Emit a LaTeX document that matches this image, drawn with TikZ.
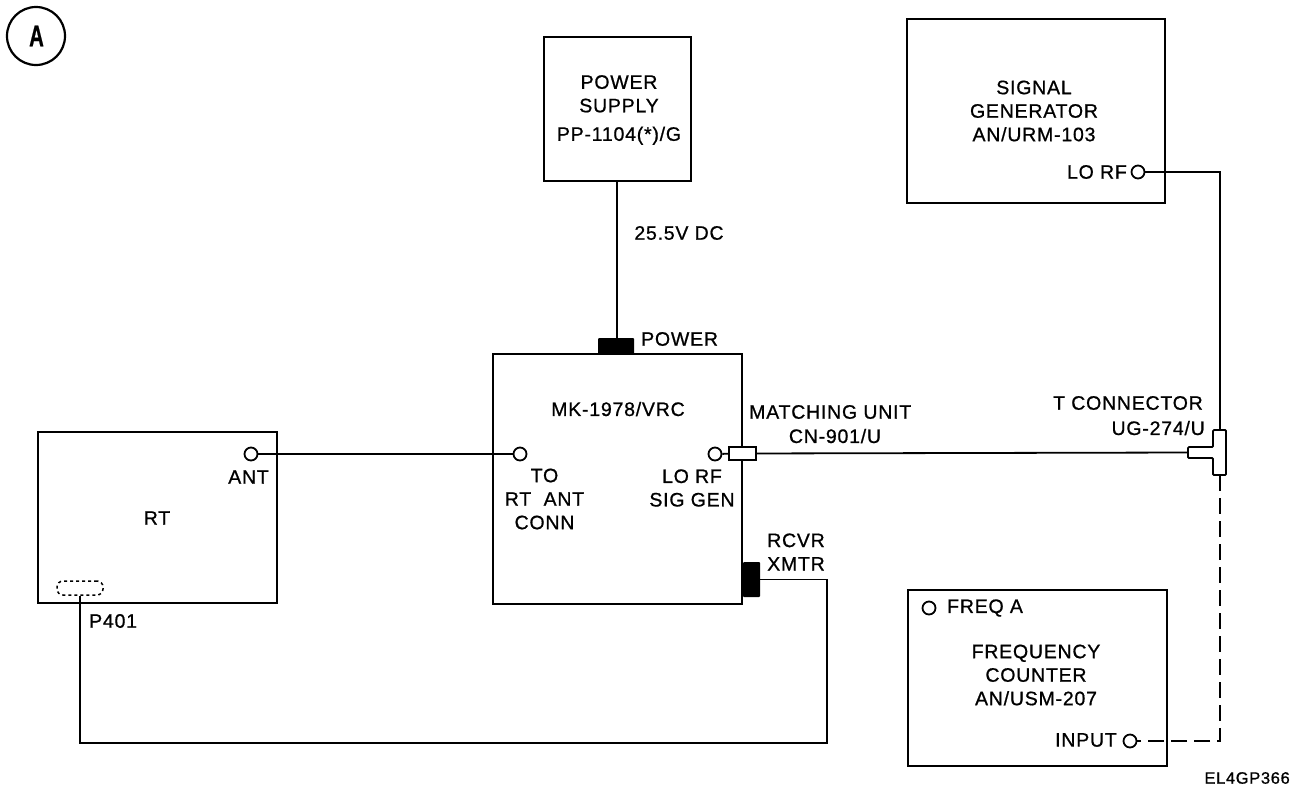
\documentclass[tikz,border=0pt]{standalone}
\usepackage{fontspec}
\setmainfont{Liberation Sans}[LetterSpace=4,FakeBold=0.8]
\usetikzlibrary{positioning}
\tikzset{
    unitbox/.style={draw, line width=2pt, inner sep=0pt},
    lbl/.style={align=center, inner sep=0pt, font=\fontsize{19.5}{23.5}\selectfont},
    jack/.style={draw, circle, line width=1.8pt, fill=white, minimum size=13pt, inner sep=0pt},
    plug/.style={fill=black, inner sep=0pt, rounded corners=1pt},
    wire/.style={line width=1.8pt}
}
\begin{document}
\begin{tikzpicture}[x=1pt,y=-1pt]
    \useasboundingbox (0,0) rectangle (1305,785);

    % boxes
    \node[unitbox, minimum width=147pt, minimum height=144pt] (power) at (617,109) {};
    \node[unitbox, minimum width=258pt, minimum height=184pt] (siggen) at (1036,111) {};
    \node[unitbox, minimum width=249pt, minimum height=250pt] (mk) at (617.5,479) {};
    \node[unitbox, minimum width=239pt, minimum height=171pt] (rt) at (157.5,517.5) {};
    \node[unitbox, minimum width=259pt, minimum height=176pt] (counter) at (1037.5,678) {};

    % letter in the corner
    \node[draw, circle, line width=2.2pt, minimum size=58pt, inner sep=0pt] (mark) at (36,36) {};
    \node[inner sep=0pt, xscale=.68, font=\fontsize{30}{30}\selectfont\bfseries] (marka) at (36.5,36) {A};

    % jacks
    \node[jack] (antjack) at (251,454) {};
    \node[jack] (mkant) at (520,454) {};
    \node[jack] (mklo) at (715,454) {};
    \node[jack] (sglo) at (1138,172) {};
    \node[jack] (freqa) at (929,608) {};
    \node[jack] (input) at (1130,741) {};

    % connectors on the boxes
    \node[plug, minimum width=36pt, minimum height=16pt] (powerplug) at (616,346) {};
    \node[plug, minimum width=17pt, minimum height=35pt] (rcvrplug) at (751.5,579.5) {};
    \node[draw, line width=1.8pt, fill=white, minimum width=27pt, minimum height=13pt, inner sep=0pt] (match) at (742.5,453.5) {};
    \node[draw, dashed, line width=1.5pt, rounded corners=6pt, minimum width=46pt, minimum height=14pt, inner sep=0pt] (p401) at (80,588) {};

    % T connector
    \coordinate (tleft) at (1188,452.5);
    \coordinate (ttop) at (1220,430);
    \coordinate (tbot) at (1220,475);
    \draw[wire, fill=white, rounded corners=1pt] (1213,430) -- (1226,430) -- (1226,475) -- (1213,475) -- (1213,458) -- (1188,458) -- (1188,447) -- (1213,447) -- cycle;

    % wires
    \draw[wire] (power.south) -- (powerplug.north -| power.south);
    \draw[wire] (antjack) -- (mkant);
    \draw[wire] (mklo) -- (match);
    \draw[wire] (match) -- (tleft);
    \draw[wire] (sglo) -| (ttop);
    \draw[wire, dash pattern=on 16pt off 7pt] (tbot) -- (1220,741) -- (input);
    \draw[wire] (rcvrplug) -| (827,743) -| (p401.south);

    % labels
    \node[lbl] (lbps) at (619,110) {POWER\\SUPPLY\\[5pt]PP-1104(*)/G};
    \node[lbl] (lbvolt) at (679,233) {25.5V DC};
    \node[lbl, anchor=west] (lbpower) at (641,339) {POWER};
    \node[lbl] (lbmk) at (618,409) {MK-1978/VRC};
    \node[lbl] (lbrt) at (157,518) {RT};
    \node[lbl, anchor=east] (lbant) at (269,477) {ANT};
    \node[lbl] (lbto) at (544.5,499) {TO\\RT\ \ ANT\\CONN};
    \node[lbl] (lbsig) at (692,488) {LO RF\\SIG GEN};
    \node[lbl, anchor=west] (lbmatch) at (749,412) {MATCHING UNIT};
    \node[lbl] (lbcn) at (835,436) {CN-901/U};
    \node[lbl, anchor=east] (lbtconn) at (1203,403) {T CONNECTOR};
    \node[lbl, anchor=east] (lbug) at (1205,428) {UG-274/U};
    \node[lbl, align=left, anchor=west] (lbrcvr) at (767,552) {RCVR\\XMTR};
    \node[lbl, anchor=west] (lbp) at (89,621) {P401};
    \node[lbl] (lbsg) at (1034,111) {SIGNAL\\GENERATOR\\AN/URM-103};
    \node[lbl, anchor=east] (lblo) at (1127,172) {LO RF};
    \node[lbl, anchor=west] (lbfreq) at (947,608) {FREQ A};
    \node[lbl] (lbfc) at (1036,675) {FREQUENCY\\COUNTER\\AN/USM-207};
    \node[lbl, anchor=east] (lbinput) at (1117,740) {INPUT};
    \node[lbl, anchor=east, font=\fontsize{16.5}{18}\selectfont] (lbcode) at (1290,778) {EL4GP366};
\end{tikzpicture}
\end{document}
